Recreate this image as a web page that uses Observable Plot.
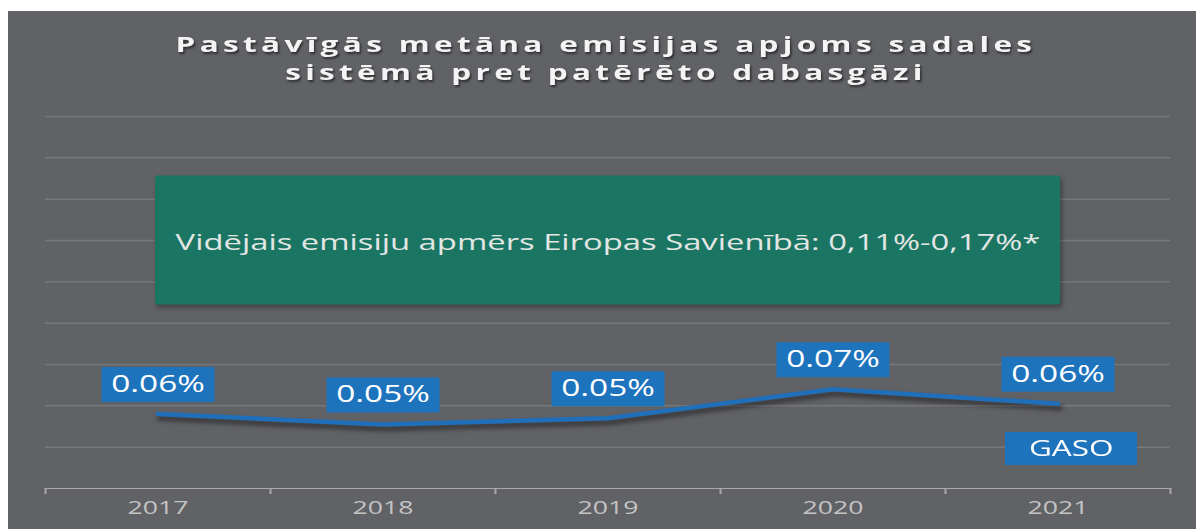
<!DOCTYPE html>
<html>
<head>
<meta charset="utf-8">
<script src="https://cdn.jsdelivr.net/npm/d3@7"></script>
<script src="https://cdn.jsdelivr.net/npm/@observablehq/plot@0.6"></script>
<style>
  html, body { margin: 0; padding: 0; background: #ffffff; width: 1196px; height: 529px; overflow: hidden; }
  #card { position: absolute; left: 8px; top: 11px; width: 1188px; height: 518px; background: #616266; overflow: hidden; font-family: "Open Sans", sans-serif; }
  #title { position: absolute; left: 4px; top: 0; width: 1188px; padding-top: 18px; text-align: center; color: #f4f4f4; font-weight: 700; font-size: 22px; line-height: 28px; letter-spacing: 3px; text-shadow: 1px 2px 2px rgba(0,0,0,0.55); white-space: nowrap; }
  #title span { display: inline-block; transform-origin: center; }
  #chart { position: absolute; left: 0; top: 85px; }
  #legend { position: absolute; left: 997px; top: 421px; width: 132px; height: 33px; background: #1e73bd; color: #ffffff; font-size: 21px; line-height: 33px; text-align: center; }
  #legend span { display: inline-block; transform: scaleX(1.5); }
</style>
</head>
<body>
<div id="card">
  <div id="title"><span>Pastāvīgās metāna emisijas apjoms sadales<br>sistēmā pret patērēto dabasgāzi</span></div>
  <div id="chart"></div>
  <div id="legend"><span>GASO</span></div>
</div>
<script>
// ---- data ----
const years = [2017, 2018, 2019, 2020, 2021];
const gasoShare = [0.056, 0.051, 0.054, 0.068, 0.061];   // % of consumed natural gas
const seriesName = "GASO";
const euRange = [0.11, 0.17];                           // EU average range, %
const euLabel = "Vidējais emisiju apmērs Eiropas Savienībā: 0,11%-0,17%*";
const gridValues = [0.04, 0.06, 0.08, 0.10, 0.12, 0.14, 0.16, 0.18, 0.20];
const yDomain = [0.02, 0.20];
const xBoundaries = [2016.5, 2017.5, 2018.5, 2019.5, 2020.5, 2021.5];

const rows = years.map((y, i) => ({year: y, value: gasoShare[i], series: seriesName}));
const euRows = [{x1: years[0], x2: years[years.length - 1], y1: euRange[0], y2: euRange[1]}];
const fmt = d => d3.format(".2f")(d) + "%";

const labelBox = { draw(ctx) { ctx.rect(-56.5, -17.5, 113, 35); } };

const plot = Plot.plot({
  width: 1188,
  height: 433,
  marginLeft: 37,
  marginRight: 26,
  marginTop: 20,
  marginBottom: 41,
  style: { background: "transparent", color: "#a9a9ab", fontFamily: "Open Sans, sans-serif", overflow: "visible" },
  x: { domain: [xBoundaries[0], xBoundaries[xBoundaries.length - 1]], ticks: xBoundaries, tickSize: 6, tickFormat: () => "", line: true, label: null },
  y: { domain: yDomain, axis: null },
  marks: [
    Plot.ruleY(gridValues, { stroke: "#77787c", strokeWidth: 1.5 }),
    Plot.rect(euRows, { x1: "x1", x2: "x2", y1: "y1", y2: "y2", fill: "#000000", fillOpacity: 0.3, rx: 3, dx: 2, dy: 3, inset: -3 }),
    Plot.rect(euRows, { x1: "x1", x2: "x2", y1: "y1", y2: "y2", fill: "#1b7563", rx: 3, inset: -2.5 }),
    Plot.text([euLabel], { x: d3.mean(years), y: d3.mean(euRange), text: d => d, fill: "#e2e6e4", fontSize: 22, dy: 2 }),
    Plot.line(rows, { x: "year", y: "value", stroke: "#000000", strokeOpacity: 0.4, strokeWidth: 6, dx: 2, dy: 4, strokeLinecap: "round", strokeLinejoin: "round" }),
    Plot.line(rows, { x: "year", y: "value", stroke: "#1f6fba", strokeWidth: 4.5, strokeLinecap: "round", strokeLinejoin: "round" }),
    Plot.dot(rows, { x: "year", y: "value", symbol: labelBox, fill: "#1e73bd", stroke: "none", dy: -29.5 }),
    Plot.text(rows, { x: "year", y: "value", text: d => fmt(d.value), fill: "#ffffff", fontSize: 23.5, dy: -29.5 }),
    Plot.text(years, { x: d => d, frameAnchor: "bottom", dy: 25, text: d => String(d), fill: "#c4c4c4", fontSize: 19 })
  ]
});

document.getElementById("chart").appendChild(plot);
plot.querySelectorAll('g[aria-label="x-axis"] path, g[aria-label="x-axis tick"] path').forEach(p => p.setAttribute("stroke-width", "2"));

// soft shadows
const rectGroups = plot.querySelectorAll('g[aria-label="rect"]');
if (rectGroups[0]) rectGroups[0].style.filter = "blur(2px)";
const lineGroups = plot.querySelectorAll('g[aria-label="line"]');
if (lineGroups[0]) lineGroups[0].style.filter = "blur(2px)";

// horizontally stretched glyphs, as in the reference (text marks in order: EU label, values, years)
const stretch = [1.49, 1.42, 1.4];
plot.querySelectorAll('g[aria-label="text"]').forEach((g, i) => {
  const k = stretch[i] || 1.4;
  g.querySelectorAll("text").forEach(t => {
    const w = t.getComputedTextLength();
    if (w > 0) {
      t.setAttribute("textLength", (w * k).toFixed(1));
      t.setAttribute("lengthAdjust", "spacingAndGlyphs");
    }
  });
});

// fit the title width
const ts = document.querySelector("#title span");
const tw = ts.getBoundingClientRect().width;
ts.style.transform = `scaleX(${(861 / tw).toFixed(3)})`;
</script>
</body>
</html>
